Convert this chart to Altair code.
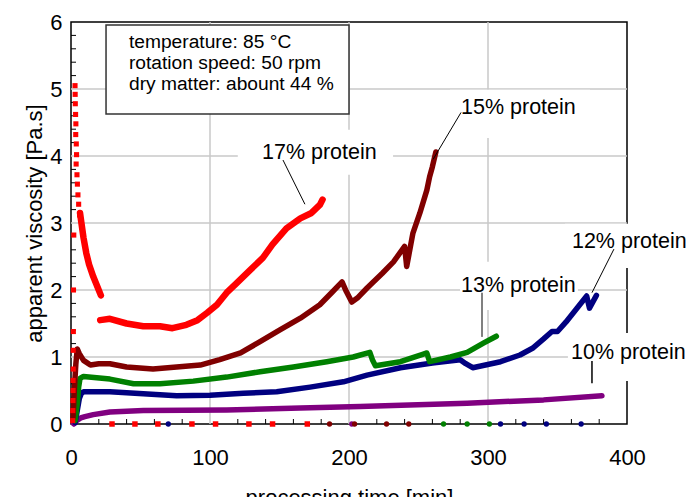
import altair as alt
import pandas as pd

FONT = "Liberation Sans"

# ---------------- data ----------------
# 17 % protein (red)
red_pts_t = [1.2, 1.3, 1.4, 1.5, 1.5, 1.6, 1.6, 1.7, 1.8, 2.0, 2.9, 3.0, 3.1, 3.3, 3.5, 3.4, 3.8, 4.0, 3.7, 4.3, 4.6, 5.0, 5.5, 6.2]
red_pts_v = [0.05, 0.2, 0.35, 0.5, 0.65, 0.82, 1.1, 1.38, 2.0, 2.82, 5.05, 4.92, 4.78, 4.62, 4.48, 4.32, 4.18, 4.02, 3.88, 3.72, 3.58, 3.42, 3.28, 3.12]
red_a_t = [6.5, 7.5, 9, 11, 13, 16, 19, 21.5]
red_a_v = [3.15, 3.0, 2.78, 2.55, 2.38, 2.2, 2.05, 1.92]
red_b_t = [21, 28, 40, 52, 64, 73, 83, 91, 98, 105, 112, 119, 129, 138, 145, 155, 165, 173, 179, 181]
red_b_v = [1.55, 1.57, 1.5, 1.46, 1.46, 1.43, 1.48, 1.55, 1.66, 1.78, 1.96, 2.1, 2.3, 2.48, 2.68, 2.92, 3.07, 3.15, 3.27, 3.35]
red_zero_t = [29.5, 46, 62.5, 87, 104, 128, 145, 170]

# 15 % protein (dark red)
dred_t = [1.5, 2.5, 3.5, 4.5, 6, 9, 14, 20, 28, 40, 59, 76, 93, 107, 122, 136, 150, 165, 179, 188, 195, 198, 202, 206, 213, 224, 232, 240, 241.5, 246, 251, 256, 258, 260, 262.5]
dred_v = [0.1, 0.55, 0.9, 1.12, 1.05, 0.95, 0.88, 0.9, 0.9, 0.85, 0.82, 0.85, 0.88, 0.96, 1.06, 1.23, 1.4, 1.58, 1.78, 1.97, 2.12, 1.98, 1.82, 1.88, 2.03, 2.25, 2.42, 2.65, 2.35, 2.85, 3.15, 3.49, 3.69, 3.84, 4.06]
dred_zero_t = [186, 204, 227, 243]

# 13 % protein (green)
green_t = [3, 4.5, 5.5, 6.5, 9, 28, 45, 64, 88, 112, 136, 160, 184, 203, 215, 217, 219, 237, 253, 256, 258, 273, 285, 297, 306]
green_v = [0.05, 0.3, 0.55, 0.68, 0.71, 0.67, 0.6, 0.6, 0.64, 0.7, 0.78, 0.85, 0.93, 1.0, 1.07, 0.95, 0.87, 0.93, 1.04, 1.06, 0.93, 1.0, 1.07, 1.21, 1.31]
green_zero_t = [268, 285, 301]

# 12 % protein (navy)
blue_t = [3, 4.5, 6, 7.5, 9, 28, 52, 76, 100, 124, 148, 172, 196, 213, 237, 260, 280, 284, 289, 309, 323, 332, 340, 346, 350, 356, 366, 371, 373, 378]
blue_v = [0.02, 0.2, 0.38, 0.46, 0.48, 0.48, 0.45, 0.42, 0.43, 0.46, 0.48, 0.55, 0.63, 0.73, 0.84, 0.91, 0.96, 0.9, 0.84, 0.93, 1.03, 1.13, 1.27, 1.38, 1.38, 1.52, 1.78, 1.91, 1.73, 1.92]
blue_zero_t = [70, 309, 326, 342, 367]

# 10 % protein (purple)
purple_t = [2, 4, 7, 10, 16, 28, 52, 112, 165, 208, 285, 340, 382]
purple_v = [0.0, 0.05, 0.09, 0.11, 0.14, 0.18, 0.2, 0.21, 0.24, 0.26, 0.31, 0.36, 0.42]
purple_zero_t = [202]

series_names = ["17% protein", "15% protein", "13% protein", "12% protein", "10% protein"]
series_colors = ["#ff0000", "#800000", "#008000", "#000080", "#800080"]

# annotation labels
label_text = series_names
label_t = [137.4, 280.6, 280.6, 360.4, 359.7]
label_v = [4.045, 4.716, 2.06, 2.716, 1.06]
# white boxes behind labels
box_t1 = [120, 272.7, 279.9, 355.4, 357.5]
box_t2 = [231.7, 373.4, 364.7, 448, 448]
box_v1 = [3.72, 4.27, 1.70, 2.33, 0.64]
box_v2 = [4.39, 4.99, 2.42, 2.99, 1.36]
# leader lines
lead_t1 = [152.5, 280.6, 295.7, 390.6, 374.8]
lead_v1 = [3.94, 4.65, 1.96, 2.61, 0.94]
lead_t2 = [168.3, 260.5, 295.7, 374.8, 374.8]
lead_v2 = [3.28, 3.95, 1.30, 1.96, 0.61]
lead_color = ["black", "black", "#808080", "black", "black"]
lead_width = [1, 1, 2, 1, 1.5]

# conditions box
info_lines = ["temperature: 85 °C", "rotation speed: 50 rpm", "dry matter: abount 44 %"]
info_t = [41.7, 41.7, 41.7]
info_v = [5.607, 5.294, 4.985]
info_box_t = [25.2, 200.0]
info_box_v = [4.627, 5.955]

# axes decoration
x_tick_labels = [0, 100, 200, 300, 400]
y_tick_labels = [0, 1, 2, 3, 4, 5, 6]
x_grid = [100, 200, 300]
y_grid = [1, 2, 3, 4, 5]
x_minor = [20, 40, 60, 80, 120, 140, 160, 180, 220, 240, 260, 280, 320, 340, 360, 380]
y_minor = [0.2, 0.4, 0.6, 0.8, 1.2, 1.4, 1.6, 1.8, 2.2, 2.4, 2.6, 2.8, 3.2, 3.4, 3.6, 3.8,
           4.2, 4.4, 4.6, 4.8, 5.2, 5.4, 5.6, 5.8]

# ---------------- chart ----------------
xs = alt.Scale(domain=[0, 400], nice=False, zero=False)
ys = alt.Scale(domain=[0, 6], nice=False, zero=False)

x_axis = alt.Axis(values=x_tick_labels, title="processing time [min]", grid=False, ticks=False,
                  domain=False, labelFont=FONT, labelFontSize=22, labelColor="black",
                  labelPadding=23, labelFlush=False, labelOverlap=False,
                  titleFont=FONT, titleFontSize=22, titleFontWeight="normal", titleColor="black",
                  titleY=80, titleBaseline="alphabetic")
y_axis = alt.Axis(values=y_tick_labels, title="apparent viscosity [Pa.s]", grid=False, ticks=False,
                  domain=False, labelFont=FONT, labelFontSize=22, labelColor="black",
                  labelPadding=9, labelFlush=False, labelOverlap=False,
                  titleFont=FONT, titleFontSize=22, titleFontWeight="normal", titleColor="black",
                  titleX=-30, titleBaseline="alphabetic")


def X(f="t"):
    return alt.X(f"{f}:Q", scale=xs, axis=x_axis)


def Y(f="v"):
    return alt.Y(f"{f}:Q", scale=ys, axis=y_axis)


# grid
gx = alt.Chart(pd.DataFrame({"t": x_grid})).mark_rule(color="#c8c8c8", strokeWidth=1.5).encode(
    x=X(), y=alt.value(0), y2=alt.value(402))
gy = alt.Chart(pd.DataFrame({"v": y_grid})).mark_rule(color="#c8c8c8", strokeWidth=1.5).encode(
    y=Y(), x=alt.value(0), x2=alt.value(556))
tx = alt.Chart(pd.DataFrame({"t": x_minor})).mark_rule(color="black", strokeWidth=1).encode(
    x=X(), y=alt.value(402), y2=alt.value(397))
ty = alt.Chart(pd.DataFrame({"v": y_minor})).mark_rule(color="black", strokeWidth=1).encode(
    y=Y(), x=alt.value(0), x2=alt.value(5))

# label background boxes
boxes = alt.Chart(pd.DataFrame({"t": box_t1, "t2": box_t2, "v": box_v1, "v2": box_v2})).mark_rect(
    fill="white").encode(x=X(), x2="t2:Q", y=Y(), y2="v2:Q")

# info box
info_box = alt.Chart(pd.DataFrame({"t": [info_box_t[0]], "t2": [info_box_t[1]],
                                   "v": [info_box_v[0]], "v2": [info_box_v[1]]})).mark_rect(
    fill="white", stroke="#333333", strokeWidth=1.5).encode(x=X(), x2="t2:Q", y=Y(), y2="v2:Q")
info_txt = alt.Chart(pd.DataFrame({"t": info_t, "v": info_v, "s": info_lines})).mark_text(
    align="left", baseline="alphabetic", font=FONT, fontSize=19.2, color="black").encode(
    x=X(), y=Y(), text="s:N")


def line(t, v, color, w):
    return alt.Chart(pd.DataFrame({"t": t, "v": v})).mark_line(
        color=color, strokeWidth=w, strokeJoin="round", strokeCap="round").encode(
        x=X(), y=Y(), order="idx:Q").transform_window(idx="row_number()")


def dots(t, v, color, shape, size):
    return alt.Chart(pd.DataFrame({"t": t, "v": v})).mark_point(
        filled=True, color=color, shape=shape, size=size, opacity=1).encode(x=X(), y=Y())


layers = [
    gx, gy, tx, ty, boxes,
    line(purple_t, purple_v, series_colors[4], 5.5),
    dots(purple_zero_t, [0] * len(purple_zero_t), series_colors[4], "circle", 28),
    line(blue_t, blue_v, series_colors[3], 5.5),
    dots(blue_zero_t, [0] * len(blue_zero_t), series_colors[3], "circle", 28),
    line(green_t, green_v, series_colors[2], 5.5),
    dots(green_zero_t, [0] * len(green_zero_t), series_colors[2], "circle", 28),
    line(dred_t, dred_v, series_colors[1], 5.5),
    dots(dred_zero_t, [0] * len(dred_zero_t), series_colors[1], "circle", 28),
    line(red_a_t, red_a_v, series_colors[0], 6.5),
    line(red_b_t, red_b_v, series_colors[0], 6.5),
    dots(red_pts_t, red_pts_v, series_colors[0], "square", 26),
    dots(red_zero_t, [0] * len(red_zero_t), series_colors[0], "square", 30),
    info_box, info_txt,
]

leads = alt.Chart(pd.DataFrame({"t": lead_t1, "v": lead_v1, "t2": lead_t2, "v2": lead_v2,
                                "c": lead_color, "w": lead_width})).mark_rule().encode(
    x=X(), y=Y(), x2="t2:Q", y2="v2:Q",
    stroke=alt.Stroke("c:N", scale=None), strokeWidth=alt.StrokeWidth("w:Q", scale=None))
labels = alt.Chart(pd.DataFrame({"t": label_t, "v": label_v, "s": label_text})).mark_text(
    align="left", baseline="middle", font=FONT, fontSize=21.5, color="black").encode(
    x=X(), y=Y(), text="s:N")
layers += [leads, labels]

chart = alt.layer(*layers).properties(
    width=556, height=402,
    autosize=alt.AutoSizeParams(type="none"),
    padding={"left": 63, "top": 14, "right": 59, "bottom": 92},
).configure_view(stroke="black", strokeWidth=1.5)

chart.save("out.html", embed_options={"renderer": "svg", "actions": False})
